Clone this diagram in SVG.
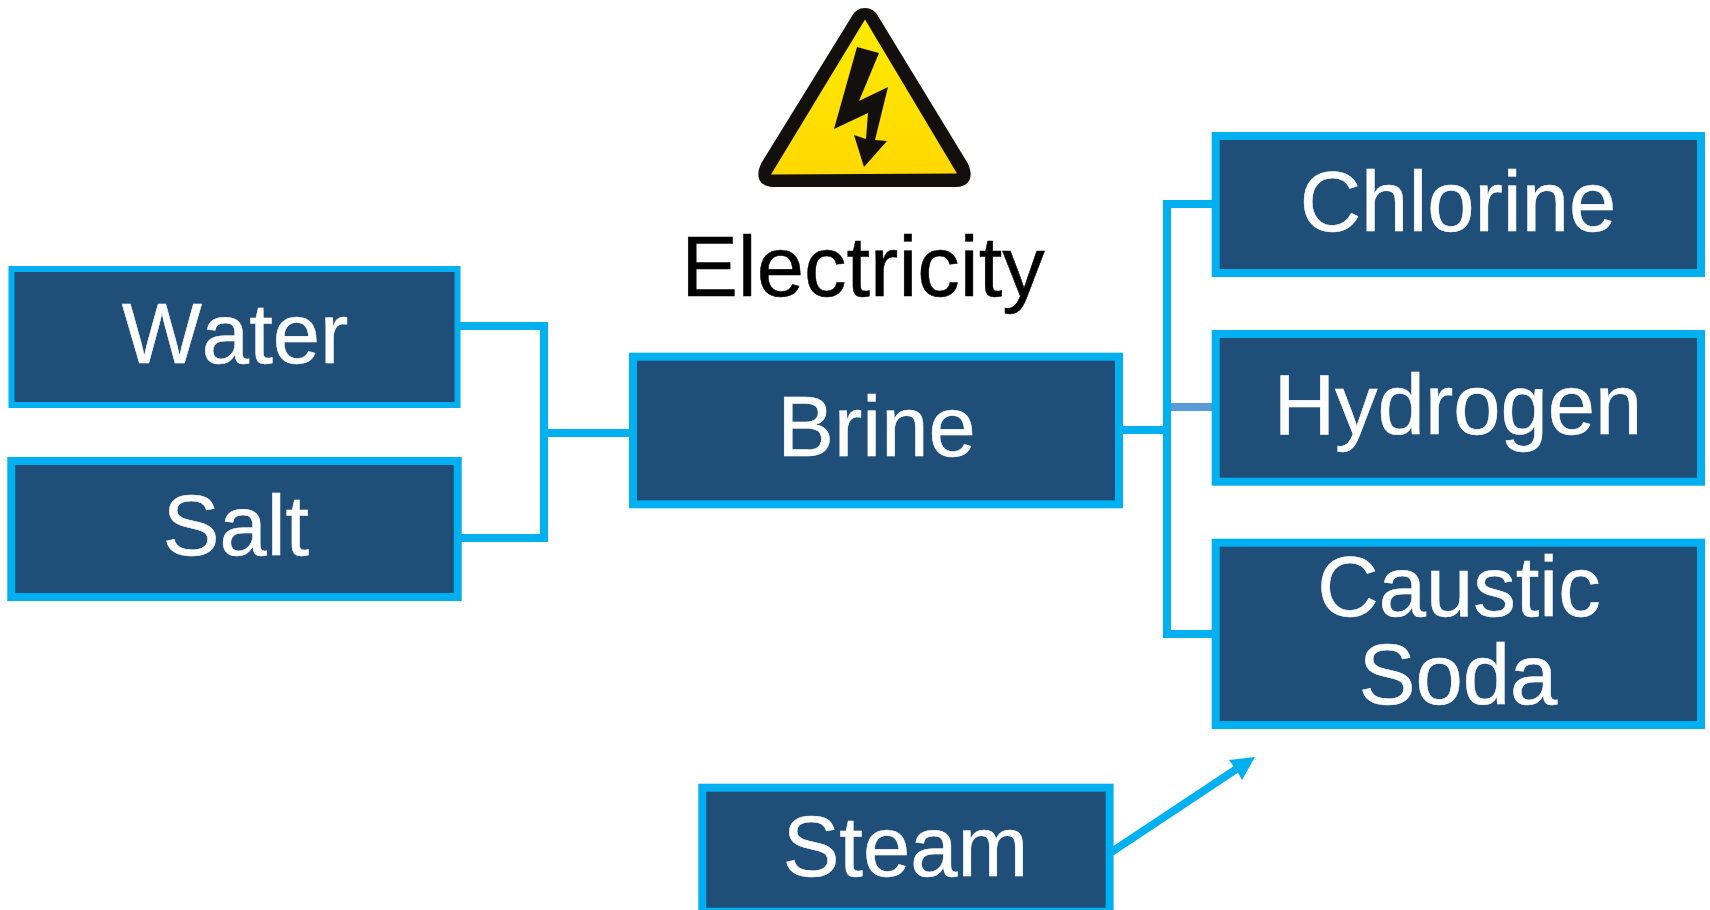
<svg xmlns="http://www.w3.org/2000/svg" width="1710" height="910" viewBox="0 0 1710 910">
<defs>
<style>
.box{fill:#1F4E79;stroke:#00B0F0;stroke-width:8}
.lbl{font-family:"Liberation Sans",Arial,sans-serif;font-size:85px;fill:#fff;text-anchor:middle;font-kerning:none;stroke:#fff;stroke-width:.5}
.con{fill:none;stroke:#00B0F0;stroke-width:8}
</style>
<linearGradient id="y" x1="0" y1="0" x2="0" y2="1"><stop offset="0" stop-color="#FFEB00"/><stop offset="1" stop-color="#FFD800"/></linearGradient>
</defs>
<rect width="1710" height="910" fill="#fff"/>
<g id="connectors">
<path class="con" d="M458 326H544V538H458M544 433H632"/>
<path class="con" d="M1119 430H1167M1215 204H1167V634H1215"/>
<path class="con" style="stroke:#5B9BD5" d="M1171 407H1213"/>
<path class="con" d="M1110 853L1238 768"/>
<polygon fill="#00B0F0" points="1255,757 1229,760 1236.5,770 1242,780"/>
</g>
<g id="icon">
<path d="M865 13Q859 13 856 19L766 165Q758 182 774 182L955 182Q971 182 963 165L874 19Q871 13 865 13Z" fill="#120F0D" stroke="#120F0D" stroke-width="10" stroke-linejoin="round"/>
<polygon points="865,19.5 957,173.5 771,174.5" fill="url(#y)"/>
<polygon points="857,47 879,53 859,101 888,87 875,140 887,141 864,167 854,135 866,139 868,113 834,129" fill="#120F0D"/>
</g>
<text id="electricity" x="863" y="296" font-family="Liberation Sans,Arial,sans-serif" font-size="85" text-anchor="middle" fill="#000" stroke="#000" stroke-width=".5" style="font-kerning:none">Electricity</text>
<g id="water"><rect x="11.5" y="269" width="446" height="136" fill="#1F4E79" stroke="#00B0F0" stroke-width="6"/><text class="lbl" x="235" y="363">Water</text></g>
<g id="salt"><rect class="box" x="11.3" y="461" width="446.4" height="136"/><text class="lbl" x="236" y="555">Salt</text></g>
<g id="brine"><rect class="box" x="633" y="356.7" width="486" height="147.6"/><text class="lbl" x="876.5" y="456">Brine</text></g>
<g id="chlorine"><rect class="box" x="1215.7" y="136" width="485.3" height="137"/><text class="lbl" x="1458" y="230.5">Chlorine</text></g>
<g id="hydrogen"><rect class="box" x="1215.7" y="334" width="485.3" height="147.7"/><text class="lbl" x="1458" y="433.5">Hydrogen</text></g>
<g id="caustic"><rect class="box" x="1215.7" y="542.7" width="485.3" height="182.3"/><text class="lbl" x="1459" y="616">Caustic</text><text class="lbl" x="1458" y="703.5">Soda</text></g>
<g id="steam"><rect class="box" x="702.3" y="787.7" width="407.3" height="124"/><text class="lbl" x="905.5" y="875.5">Steam</text></g>
</svg>
